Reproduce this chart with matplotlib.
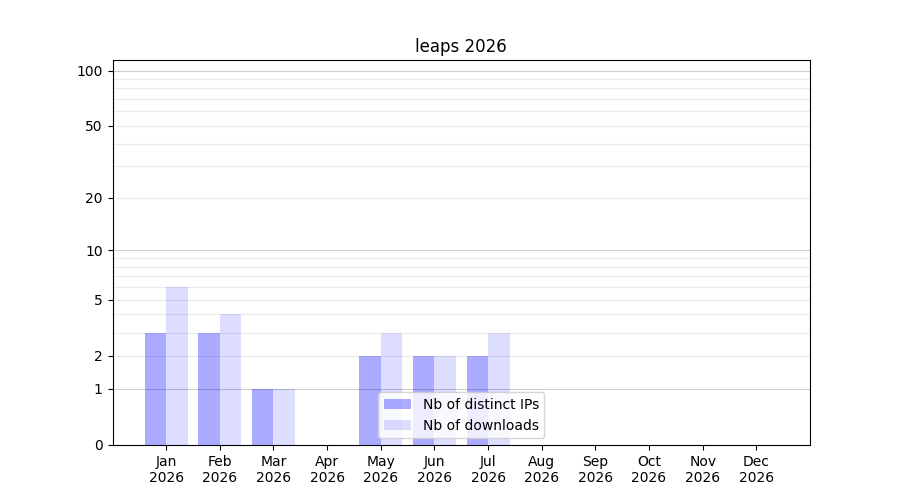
import numpy as np
import matplotlib
matplotlib.use('Agg')
from matplotlib import pyplot as plt

months = ['Jan', 'Feb', 'Mar', 'Apr', 'May', 'Jun', 'Jul', 'Aug', 'Sep', 'Oct', 'Nov', 'Dec']
year = 2026
distinct_ips = [3, 3, 1, 0, 2, 2, 2, 0, 0, 0, 0, 0]
downloads = [6, 4, 1, 0, 3, 2, 3, 0, 0, 0, 0, 0]

y_ticks = [0, 1, 2, 5, 10, 20, 50, 100]
grid_major = [1, 10, 100]
grid_minor = [2, 3, 4, 5, 6, 7, 8, 9, 20, 30, 40, 50, 60, 70, 80, 90]

x = np.arange(len(months))
width = 0.4

fig, ax = plt.subplots(figsize=(9, 5), dpi=100)

ax.set_yscale('function', functions=(lambda v: np.log10(1 + np.asarray(v)),
                                     lambda v: 10 ** np.asarray(v) - 1))

for g in grid_minor:
    ax.axhline(g, color='#ebebeb', linewidth=0.8, zorder=0)
for g in grid_major:
    ax.axhline(g, color='#cccccc', linewidth=0.8, zorder=0)

ax.bar(x, distinct_ips, width=-width, align='edge', color='blue', alpha=0.33,
       label='Nb of distinct IPs', zorder=2)
ax.bar(x, downloads, width=width, align='edge', color='blue', alpha=0.133,
       label='Nb of downloads', zorder=2)

ax.set_yticks(y_ticks)
ax.set_yticklabels([str(t) for t in y_ticks])
ax.set_ylim(0, 114)
ax.set_xticks(x)
ax.set_xticklabels([f'{m}\n{year}' for m in months])
ax.set_xlim(-1, 12)
ax.set_title(f'leaps {year}')
ax.legend(loc='lower center')

plt.savefig('out.png')
